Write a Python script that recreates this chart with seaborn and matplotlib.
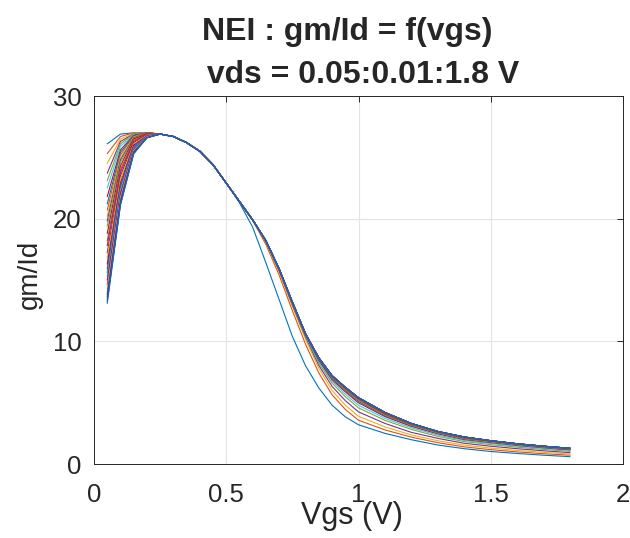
import pandas as pd
import seaborn as sns
import matplotlib.pyplot as plt

# vgs sample points (V)
vgs_head = [0.05, 0.10, 0.15, 0.20]
vgs_body = [0.25, 0.30, 0.35, 0.40, 0.45, 0.50]
vgs_tail = [0.55, 0.60, 0.65, 0.70, 0.75, 0.80, 0.85, 0.90, 0.95, 1.00,
            1.10, 1.20, 1.30, 1.40, 1.50, 1.60, 1.70, 1.80]

# drawn subset of the vds sweep 0.05:0.01:1.8
vds_values = [0.05, 0.06, 0.07, 0.08, 0.09, 0.10, 0.11, 0.12, 0.13, 0.14,
              0.15, 0.16, 0.18, 0.20, 0.22, 0.25, 0.28, 0.32, 0.36, 0.40,
              0.45, 0.50, 0.60, 0.70, 0.80, 0.95, 1.10, 1.30, 1.55, 1.80]

# gm/Id at the first four vgs points, one value per vds
head_005 = [26.1, 25.3, 24.5, 23.7, 23.1, 22.5, 21.8, 21.2, 20.7, 20.2,
            19.8, 19.4, 18.8, 18.2, 17.8, 17.2, 16.8, 16.3, 15.9, 15.6,
            15.3, 15.0, 14.6, 14.3, 14.0, 13.8, 13.6, 13.4, 13.25, 13.1]
head_010 = [26.9, 26.7, 26.5, 26.3, 26.1, 25.9, 25.6, 25.4, 25.2, 25.0,
            24.8, 24.6, 24.3, 24.0, 23.8, 23.5, 23.2, 22.9, 22.7, 22.5,
            22.3, 22.1, 21.9, 21.7, 21.6, 21.45, 21.35, 21.25, 21.15, 21.1]
head_015 = [27.0, 27.0, 26.95, 26.9, 26.9, 26.85, 26.8, 26.75, 26.7, 26.65,
            26.6, 26.55, 26.5, 26.4, 26.3, 26.2, 26.1, 26.0, 25.9, 25.85,
            25.75, 25.7, 25.6, 25.55, 25.5, 25.45, 25.4, 25.35, 25.3, 25.3]
head_020 = [27.0, 27.0, 27.0, 27.0, 27.0, 27.0, 27.0, 27.0, 27.0, 26.95,
            26.95, 26.9, 26.9, 26.85, 26.85, 26.8, 26.8, 26.75, 26.75, 26.7,
            26.7, 26.7, 26.65, 26.65, 26.65, 26.6, 26.6, 26.6, 26.6, 26.6]

# common part of all curves
body_gmid = [26.9, 26.7, 26.2, 25.5, 24.4, 22.9]

# tails (vgs >= 0.55)
tail_env = [21.4, 19.9, 18.2, 15.9, 13.2, 10.6, 8.65, 7.2, 6.25, 5.4,
            4.2, 3.3, 2.65, 2.2, 1.9, 1.65, 1.45, 1.28]
tail_005 = [21.3, 19.3, 16.4, 13.4, 10.4, 8.0, 6.2, 4.8, 3.85, 3.2,
            2.5, 1.98, 1.55, 1.25, 1.02, 0.86, 0.72, 0.6]
tail_006 = [21.4, 19.85, 17.9, 15.4, 12.5, 9.75, 7.42, 5.65, 4.45, 3.57,
            2.78, 2.19, 1.74, 1.40, 1.17, 0.99, 0.84, 0.72]
tail_007 = [21.4, 19.87, 18.07, 15.65, 12.84, 10.16, 7.8, 6.0, 4.8, 3.89,
            3.03, 2.37, 1.90, 1.54, 1.30, 1.11, 0.95, 0.82]
tail_008 = [21.4, 19.9, 18.13, 15.75, 12.98, 10.35, 8.04, 6.33, 5.17, 4.25,
            3.31, 2.58, 2.09, 1.69, 1.45, 1.25, 1.08, 0.93]
tail_009 = [21.4, 19.9, 18.16, 15.83, 13.06, 10.45, 8.23, 6.6, 5.49, 4.58,
            3.56, 2.82, 2.25, 1.83, 1.58, 1.37, 1.19, 1.04]
tail_010 = [21.4, 19.9, 18.2, 15.85, 13.12, 10.52, 8.35, 6.77, 5.69, 4.79,
            3.72, 2.95, 2.36, 1.92, 1.67, 1.45, 1.26, 1.10]
tail_011 = [21.4, 19.9, 18.2, 15.9, 13.14, 10.54, 8.46, 6.89, 5.89, 4.99,
            3.87, 3.07, 2.46, 2.0, 1.75, 1.52, 1.33, 1.16]
tail_012 = [21.4, 19.9, 18.2, 15.9, 13.2, 10.58, 8.53, 6.98, 5.99, 5.11,
            3.94, 3.13, 2.51, 2.03, 1.79, 1.55, 1.36, 1.19]
tail_013 = [21.4, 19.9, 18.2, 15.9, 13.2, 10.6, 8.58, 7.05, 6.05, 5.18,
            3.99, 3.17, 2.54, 2.06, 1.81, 1.57, 1.38, 1.21]
tail_014 = [21.4, 19.9, 18.2, 15.9, 13.2, 10.6, 8.6, 7.1, 6.11, 5.22,
            4.02, 3.19, 2.56, 2.08, 1.83, 1.59, 1.39, 1.23]
tail_015 = [21.4, 19.9, 18.2, 15.9, 13.2, 10.6, 8.6, 7.13, 6.13, 5.25,
            4.04, 3.21, 2.57, 2.09, 1.84, 1.60, 1.40, 1.23]
tail_016 = [21.4, 19.9, 18.2, 15.9, 13.2, 10.6, 8.63, 7.14, 6.16, 5.27,
            4.05, 3.22, 2.58, 2.10, 1.85, 1.60, 1.41, 1.24]
tail_018 = [21.4, 19.9, 18.2, 15.9, 13.2, 10.6, 8.65, 7.16, 6.18, 5.31,
            4.08, 3.24, 2.61, 2.13, 1.87, 1.62, 1.42, 1.25]
tail_020 = [21.4, 19.9, 18.2, 15.9, 13.2, 10.6, 8.65, 7.18, 6.2, 5.34,
            4.12, 3.25, 2.62, 2.15, 1.87, 1.63, 1.43, 1.26]

low_tails = {0.05: tail_005, 0.06: tail_006, 0.07: tail_007, 0.08: tail_008,
             0.09: tail_009, 0.10: tail_010, 0.11: tail_011, 0.12: tail_012,
             0.13: tail_013, 0.14: tail_014, 0.15: tail_015, 0.16: tail_016,
             0.18: tail_018, 0.20: tail_020}

matlab_colors = ['#0072BD', '#D95319', '#EDB120', '#7E2F8E',
                 '#77AC30', '#4DBEEE', '#A2142F']

vgs = vgs_head + vgs_body + vgs_tail
rows = []
labels = []
palette = {}
for i, vds in enumerate(vds_values):
    lab = '%.2f' % vds
    labels.append(lab)
    palette[lab] = matlab_colors[int(round((vds - 0.05) / 0.01)) % 7]
    g = [head_005[i], head_010[i], head_015[i], head_020[i]] + body_gmid + low_tails.get(vds, tail_env)
    for x, y in zip(vgs, g):
        rows.append({'vgs': x, 'gmid': y, 'vds': lab})
df = pd.DataFrame(rows)

sns.set_style('white')
plt.rcParams['font.family'] = ['Liberation Sans', 'DejaVu Sans']

fig = plt.figure(figsize=(6.3, 5.38), dpi=100)
ax = fig.add_axes([0.1492, 0.1375, 0.8397, 0.684])

sns.lineplot(data=df, x='vgs', y='gmid', hue='vds', hue_order=labels,
             palette=palette, estimator=None, sort=False, legend=False,
             linewidth=0.8, ax=ax)

ax.set_xlim(0, 2)
ax.set_ylim(0, 30)
ax.set_xticks([0, 0.5, 1, 1.5, 2])
ax.set_xticklabels(['0', '0.5', '1', '1.5', '2'])
ax.set_yticks([0, 10, 20, 30])
ax.grid(True, color='#E3E3E3', linewidth=0.8)
ax.set_axisbelow(True)
for sp in ax.spines.values():
    sp.set_visible(True)
    sp.set_color('#262626')
    sp.set_linewidth(0.7)
ax.tick_params(direction='in', length=4, width=0.7, top=True, right=True,
               colors='#262626', labelsize=18.5)
ax.tick_params(axis='x', pad=14)
ax.tick_params(axis='y', pad=9)

ax.set_xlabel('Vgs (V)', fontsize=22, color='#262626')
ax.set_ylabel('gm/Id', fontsize=20, color='#262626')
ax.xaxis.set_label_coords(0.488, -0.1)
ax.yaxis.set_label_coords(-0.097, 0.515)

fig.text(0.551, 0.9405, 'NEI : gm/Id = f(vgs)', ha='center', va='center',
         fontsize=23, fontweight='bold')
fig.text(0.569, 0.8606, ' vds = 0.05:0.01:1.8 V', ha='center', va='center',
         fontsize=23, fontweight='bold')

fig.savefig('out.png', dpi=100)
